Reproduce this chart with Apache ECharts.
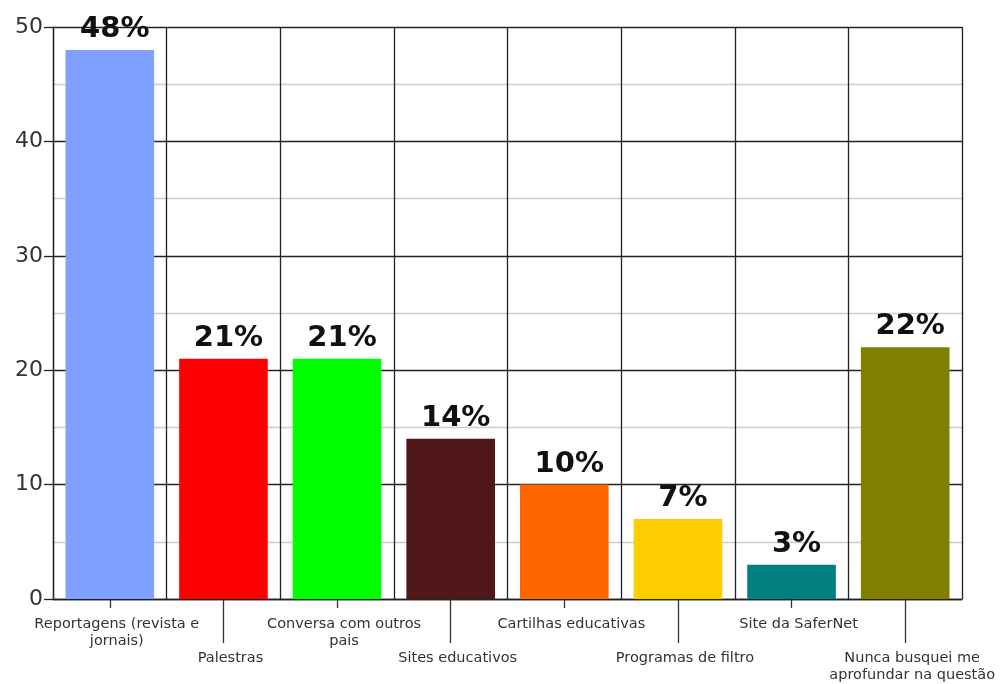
<!DOCTYPE html>
<html><head><meta charset="utf-8">
<script src="https://cdn.jsdelivr.net/npm/echarts@6/dist/echarts.min.js"></script>
<style>html,body{margin:0;padding:0;background:#fff}#c{width:1002px;height:684px}</style>
</head><body><div id="c"></div>
<script>
const categories = ["Reportagens (revista e\njornais)", "Palestras", "Conversa com outros\npais", "Sites educativos", "Cartilhas educativas", "Programas de filtro", "Site da SaferNet", "Nunca busquei me\naprofundar na questão"];
const values = [48, 21, 21, 14, 10, 7, 3, 22];
const colors = ["#80a0ff", "#ff0000", "#00ff00", "#4f1717", "#ff6600", "#ffcc00", "#008080", "#808000"];
const yTicks = [0, 10, 20, 30, 40, 50];

const chart = echarts.init(document.getElementById('c'), null, {renderer: 'canvas'});
const font = 'DejaVu Sans';
const even = (i) => i % 2 === 0;
const odd = (i) => i % 2 === 1;
chart.setOption({
  animation: false,
  backgroundColor: '#fff',
  grid: {left: 53, right: 40, top: 27, bottom: 84, containLabel: false},
  xAxis: [{
    type: 'category', data: categories, position: 'bottom',
    axisLine: {show: true, lineStyle: {color: '#222', width: 1.3}},
    axisTick: {show: true, alignWithLabel: true, length: 9, interval: even, lineStyle: {color: '#333', width: 1.3}},
    axisLabel: {interval: even, margin: 17, color: '#333', fontFamily: font, fontSize: 14.5, lineHeight: 17, padding: [0, 0, 0, 14]},
    splitLine: {show: true, interval: 0, lineStyle: {color: '#222', width: 1.3}}
  }, {
    type: 'category', data: categories, position: 'bottom', offset: 0,
    axisLine: {show: false},
    axisTick: {show: true, alignWithLabel: true, length: 44, interval: odd, lineStyle: {color: '#333', width: 1.3}},
    axisLabel: {interval: odd, margin: 51, color: '#333', fontFamily: font, fontSize: 14.5, lineHeight: 17, padding: [0, 0, 0, 14]},
    splitLine: {show: false}
  }],
  yAxis: {
    type: 'value', min: 0, max: 50, interval: 10,
    axisLine: {show: true, lineStyle: {color: '#222', width: 1.3}},
    axisTick: {show: true, length: 9, lineStyle: {color: '#222', width: 1.3}},
    axisLabel: {color: '#333', fontFamily: font, fontSize: 22, margin: 10,
      formatter: (v) => yTicks.includes(v) ? String(v) : ''},
    splitLine: {show: true, lineStyle: {color: '#222', width: 1.3}},
    minorTick: {show: false, splitNumber: 2},
    minorSplitLine: {show: true, lineStyle: {color: '#cccccc', width: 1.3}}
  },
  series: [{
    type: 'bar', xAxisIndex: 0,
    barCategoryGap: '22%',
    data: values.map((v, i) => ({value: v, itemStyle: {color: colors[i]}})),
    label: {show: true, position: 'top', distance: 6, offset: [5, 0], formatter: (p) => p.value + '%',
      fontFamily: font, fontWeight: 'bold', fontSize: 29, color: '#111'}
  }]
});
</script></body></html>
